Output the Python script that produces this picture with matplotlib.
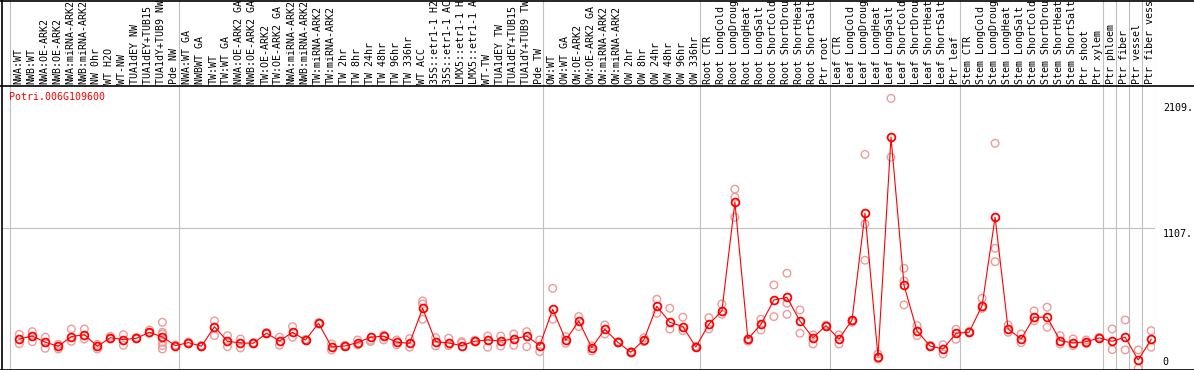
import matplotlib
matplotlib.use("Agg")
from matplotlib import pyplot as plt
from matplotlib.lines import Line2D

# sample names (column headers)
samples = [
    "NWA:WT", "NWB:WT", "NWA:OE-ARK2", "NWB:OE-ARK2", "NWA:miRNA-ARK2", "NWB:miRNA-ARK2",
    "NW 0hr", "WT H2O", "WT-NW", "TUA1dEY NW", "TUA1dEY+TUB15 NW", "TUA1dY+TUB9 NW", "Pde NW",
    "NWA:WT GA", "NWBWT GA", "TW:WT", "TW:WT GA", "NWA:OE-ARK2 GA", "NWB:OE-ARK2 GA",
    "TW:OE-ARK2", "TW:OE-ARK2 GA", "NWA:miRNA-ARK2 GA", "NWB:miRNA-ARK2 GA", "TW:miRNA-ARK2",
    "TW:miRNA-ARK2", "TW 2hr", "TW 8hr", "TW 24hr", "TW 48hr", "TW 96hr", "TW 336hr", "WT ACC",
    "35S::etr1-1 H2O", "35S::etr1-1 ACC", "LMX5::etr1-1 H2O", "LMX5::etr1-1 ACC", "WT-TW",
    "TUA1dEY TW", "TUA1dEY+TUB15 TW", "TUA1dY+TUB9 TW", "Pde TW",
    "OW:WT", "OW:WT GA", "OW:OE-ARK2", "OW:OE-ARK2 GA", "OW:miRNA-ARK2", "OW:miRNA-ARK2",
    "OW 2hr", "OW 8hr", "OW 24hr", "OW 48hr", "OW 96hr", "OW 336hr",
    "Root CTR", "Root LongCold", "Root LongDrought", "Root LongHeat", "Root LongSalt",
    "Root ShortCold", "Root ShortDrought", "Root ShortHeat", "Root ShortSalt", "Ptr root",
    "Leaf CTR", "Leaf LongCold", "Leaf LongDrought", "Leaf LongHeat", "Leaf LongSalt",
    "Leaf ShortCold", "Leaf ShortDrought", "Leaf ShortHeat", "Leaf ShortSalt", "Ptr leaf",
    "Stem CTR", "Stem LongCold", "Stem LongDrought", "Stem LongHeat", "Stem LongSalt",
    "Stem ShortCold", "Stem ShortDrought", "Stem ShortHeat", "Stem ShortSalt", "Ptr shoot",
    "Ptr xylem", "Ptr phloem", "Ptr fiber", "Ptr vessel", "Ptr fiber vessel",
]

# first sample index of each group (separator lines)
group_starts = [0, 13, 41, 53, 63, 73, 84, 85, 86, 87, 88]

expr_mean = [
    188, 213, 161, 128, 208, 224, 128, 199, 183, 194, 244, 205, 133,
    158, 128, 290, 169, 155, 153, 236, 172, 244, 180, 319, 122, 130, 158, 203, 211,
    161, 153, 443, 166, 155, 133, 169, 180, 172, 188, 213, 133,
    435, 178, 338, 116, 269, 161, 78, 180, 460, 327, 291, 122,
    310, 421, 1323, 188, 310, 512, 534, 338, 199, 299,
    188, 346, 1232, 42, 1863, 634, 255, 130, 105, 236,
    244, 465, 1199, 271, 188, 369, 369, 174, 155, 166, 197,
    169, 203, 14, 186,
]

expr_reps = [
    [227, 149], [249, 166], [203, 111], [144, 105], [271, 169], [271, 188], [144, 105],
    [210, 190], [224, 136], [200, 190], [263, 236], [327, 244, 230, 161, 133, 105], [138, 128],
    [163, 153], [133, 123], [338, 216], [216, 125], [188, 114], [158, 148], [241, 231],
    [203, 136], [291, 203], [185, 175], [324, 314], [147, 97], [135, 125], [180, 139],
    [177, 167], [220, 180], [180, 139], [191, 120], [504, 479, 352], [199, 130], [194, 133],
    [166, 156], [177, 165], [213, 120], [213, 130], [230, 136], [249, 125], [180, 83],
    [609, 352], [208, 153], [374, 291], [130, 89], [305, 230], [166, 156], [83, 73],
    [199, 166], [518, 402], [443, 271], [369, 257], [127, 117],
    [365, 271], [479, 393], [1432, 1365, 1199], [188, 170], [352, 263], [637, 374],
    [734, 485, 393], [429, 236], [222, 147], [304, 294],
    [222, 147], [327, 340], [1721, 1143, 842], [64, 22], [2186, 1697], [775, 670, 471],
    [299, 216], [135, 125], [141, 64], [269, 186],
    [249, 239], [526, 443], [1813, 941, 830], [305, 244], [230, 158], [421, 340],
    [452, 286], [216, 147], [188, 133], [180, 150], [202, 192],
    [271, 100], [346, 97], [97, -55], [257, 120],
]

y_ticks = [0, 1107, 2109]
gene = "Potri.006G109600"

W, H = 1194, 370
mono = "DejaVu Sans Mono"
fs = 7.2
grey = "#c0c0c0"

fig = plt.figure(figsize=(W / 100, H / 100), dpi=100)
xlo, xhi = -1.406, 87.29

# main plot area
ax = fig.add_axes([1 / W, 1 / H, 1154 / W, 284 / H])
ax.set_xlim(xlo, xhi)
ax.set_ylim(-61, 2297)
ax.axis("off")

# header with sample names
axh = fig.add_axes([1 / W, 285 / H, 1154 / W, 85 / H])
axh.set_xlim(xlo, xhi)
axh.set_ylim(0, 85)
axh.axis("off")

for g in group_starts:
    ax.axvline(g - 0.715, color=grey, lw=0.8, zorder=0)
    axh.axvline(g - 0.715, color=grey, lw=0.8, zorder=0)
ax.axhline(1107, color=grey, lw=0.8, zorder=0)

# header only has room for 14 characters, longer names are cut like in the original
for i, name in enumerate(samples):
    axh.text(i - 0.08, 1.5, name[:14], rotation=90, ha="center", va="bottom",
             family=mono, fontsize=fs, clip_on=True)

# replicates
for i, reps in enumerate(expr_reps):
    ax.scatter([i] * len(reps), reps, s=30, facecolors="none",
               edgecolors="#ee9a9a", linewidths=1.0, zorder=2, clip_on=True)

x = list(range(len(expr_mean)))
ax.plot(x, expr_mean, "-", color="red", lw=0.8, zorder=3)
ax.plot(x, expr_mean, "o", mfc="none", mec="red", ms=5.6, mew=1.3, zorder=4)

ax.text(8 / 1154, 1 - 12 / 284, gene, transform=ax.transAxes, color="red",
        family=mono, fontsize=fs, va="center", ha="left")

for v in y_ticks:
    off = -45 if v == 1107 else 0
    ax.text(1.0068, v + off, f"{v}." if v else "0", transform=ax.get_yaxis_transform(),
            family=mono, fontsize=fs, va="center", ha="left", clip_on=False)

# frame lines
for yy in [369.5, 85.5, 0.5]:
    fig.add_artist(Line2D([0, 1], [1 - yy / H] * 2, color="black", lw=1.2))
fig.add_artist(Line2D([1.5 / W] * 2, [0, 1], color="black", lw=1.2))

fig.savefig("out.png", dpi=100)
